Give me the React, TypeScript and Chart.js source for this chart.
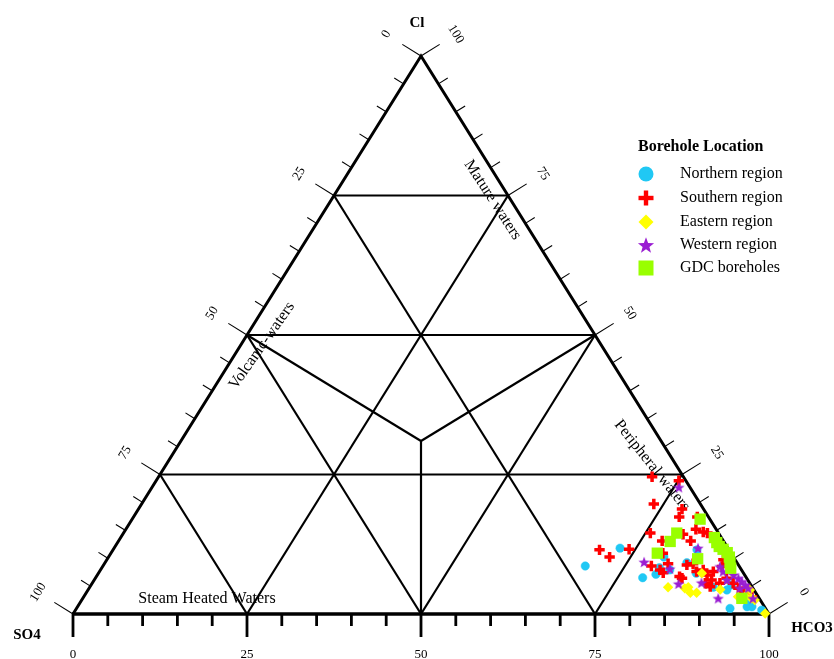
import React, { useEffect, useRef } from "react";
import { Chart, registerables } from "chart.js";

Chart.register(...registerables);

// Each point: [Cl %, HCO3 %]; SO4 % = 100 - Cl - HCO3
const northern: [number, number][] = [
  [8.6, 69.3], [11.8, 72.7], [6.5, 78.6], [7.1, 80.2], [8.3, 80.1], [7.9, 81.8],
  [9.2, 83.6], [11.5, 83.9], [7.3, 85.9], [4.3, 91.8], [1.0, 93.9], [1.3, 96.2],
  [1.3, 96.9], [0.7, 98.6], [5.2, 92.0], [2.5, 96.0], [10.2, 79.8], [4.8, 89.6],
];
const southern: [number, number][] = [
  [24.6, 70.9], [23.9, 75.1], [19.7, 73.6], [18.8, 78.1], [17.4, 78.4], [14.5, 75.7],
  [13.1, 78.1], [14.3, 80.5], [13.1, 82.2], [15.2, 81.9], [11.5, 69.9], [10.2, 72.0],
  [11.6, 74.1], [10.9, 79.3], [9.0, 81.0], [8.6, 78.8], [7.9, 80.4], [7.4, 81.1],
  [6.7, 83.8], [6.4, 84.3], [8.8, 83.8], [9.0, 84.6], [7.6, 85.8], [17.4, 81.0],
  [14.7, 83.2], [14.5, 83.9], [7.9, 86.6], [7.0, 87.6], [6.1, 88.7], [5.5, 88.1],
  [4.9, 89.1], [5.5, 90.2], [9.7, 88.6], [8.5, 89.0], [6.4, 90.7], [5.5, 92.1],
  [4.6, 93.3], [4.0, 94.3], [4.3, 94.9], [7.6, 88.2], [3.1, 96.0],
];
const eastern: [number, number][] = [
  [4.8, 83.1], [4.6, 85.6], [4.8, 86.0], [3.8, 86.8], [3.8, 87.7], [7.3, 86.7],
  [4.4, 90.8], [2.8, 96.1], [2.5, 96.7], [0.1, 99.4], [3.2, 95.0], [3.1, 94.0],
  [4.3, 95.1],
];
const western: [number, number][] = [
  [22.7, 75.7], [9.3, 77.4], [8.1, 81.7], [5.4, 84.3], [11.8, 83.9], [8.5, 88.7],
  [7.6, 89.6], [6.1, 90.9], [7.0, 91.4], [6.4, 92.4], [5.8, 93.2], [5.2, 94.0],
  [4.6, 94.7], [2.8, 96.3], [2.8, 91.3], [5.6, 87.5], [4.6, 93.5],
];
const gdc: [number, number][] = [
  [14.5, 79.5], [13.0, 79.3], [10.9, 78.5], [9.9, 84.8], [17.0, 81.6], [13.7, 85.3],
  [12.8, 86.1], [12.1, 86.8], [11.6, 87.6], [11.0, 88.5], [10.2, 89.2], [9.2, 89.8],
  [8.2, 90.4], [2.8, 94.7],
];

const seriesNames = ["Northern region", "Southern region", "Eastern region", "Western region", "GDC boreholes"];
const axisTicks = [0, 25, 50, 75, 100];
const vertexLabels = ["Cl", "SO4", "HCO3"];
const regionLabels = ["Mature waters", "Volcanic-waters", "Peripheral waters", "Steam Heated Waters"];
const legendTitle = "Borehole Location";

const COLORS = ["#20C8F4", "#FF0000", "#FFFF00", "#9A1ED2", "#99FF00"];
const FONT = "'Liberation Serif', 'Times New Roman', serif";

function makeStar(outer: number, color: string): HTMLCanvasElement {
  const s = Math.ceil(outer * 2 + 2);
  const c = document.createElement("canvas");
  c.width = s;
  c.height = s;
  const g = c.getContext("2d")!;
  drawStar(g, s / 2, s / 2 + outer * 0.08, outer, color);
  return c;
}

function drawStar(g: CanvasRenderingContext2D, cx: number, cy: number, outer: number, color: string) {
  const inner = outer * 0.42;
  g.beginPath();
  for (let i = 0; i < 10; i++) {
    const r = i % 2 === 0 ? outer : inner;
    const a = -Math.PI / 2 + (i * Math.PI) / 5;
    const px = cx + r * Math.cos(a);
    const py = cy + r * Math.sin(a);
    if (i === 0) g.moveTo(px, py);
    else g.lineTo(px, py);
  }
  g.closePath();
  g.fillStyle = color;
  g.fill();
}

const toXY = (pts: [number, number][]) => pts.map(([cl, h]) => ({ x: h + cl / 2, y: cl }));

const ternaryPlugin = {
  id: "ternary",
  beforeDatasetsDraw(chart: any) {
    const { ctx } = chart;
    const xs = chart.scales.x;
    const ys = chart.scales.y;
    const P = (cl: number, h: number) => ({ x: xs.getPixelForValue(h + cl / 2), y: ys.getPixelForValue(cl) });
    const A = P(0, 0); // SO4
    const B = P(0, 100); // HCO3
    const C = P(100, 0); // Cl
    ctx.save();
    ctx.strokeStyle = "#000";
    ctx.lineJoin = "miter";

    const seg = (p: { x: number; y: number }, q: { x: number; y: number }) => {
      ctx.beginPath();
      ctx.moveTo(p.x, p.y);
      ctx.lineTo(q.x, q.y);
      ctx.stroke();
    };

    // inner grid
    ctx.lineWidth = 2.2;
    const inner: [number, number, number, number][] = [
      [75, 0, 75, 25], [50, 0, 50, 50], [25, 0, 25, 75],
      [0, 25, 75, 25], [0, 50, 50, 50], [0, 75, 25, 75],
      [0, 75, 75, 0], [0, 50, 50, 0], [0, 25, 25, 0],
      [50, 0, 31, 34.5], [50, 50, 31, 34.5], [31, 34.5, 0, 50],
    ];
    inner.forEach(([a, b, c, d]) => seg(P(a, b), P(c, d)));

    // outer triangle
    ctx.lineWidth = 3;
    ctx.beginPath();
    ctx.moveTo(A.x, A.y);
    ctx.lineTo(C.x, C.y);
    ctx.lineTo(B.x, B.y);
    ctx.stroke();
    ctx.lineWidth = 3.5;
    seg({ x: A.x - 1, y: A.y }, { x: B.x + 1, y: B.y });

    // bottom ticks
    ctx.lineWidth = 2.8;
    for (let v = 0; v <= 100; v += 5) {
      const p = P(0, v);
      const len = v % 25 === 0 ? 23 : 12;
      seg(p, { x: p.x, y: p.y + len });
    }

    // side ticks
    const dL = { x: C.x - A.x, y: C.y - A.y };
    const nLen = Math.hypot(dL.x, dL.y);
    const nL = { x: dL.y / nLen, y: -dL.x / nLen };
    const dR = { x: C.x - B.x, y: C.y - B.y };
    const rLen = Math.hypot(dR.x, dR.y);
    const nR = { x: -dR.y / rLen, y: dR.x / rLen };
    ctx.lineWidth = 1.1;
    for (let v = 0; v <= 100; v += 5) {
      const len = v % 25 === 0 ? 22 : 11;
      const pl = P(100 - v, 0);
      seg(pl, { x: pl.x + nL.x * len, y: pl.y + nL.y * len });
      const pr = P(v, 100 - v);
      seg(pr, { x: pr.x + nR.x * len, y: pr.y + nR.y * len });
    }

    // tick labels
    ctx.fillStyle = "#000";
    ctx.font = `13px ${FONT}`;
    ctx.textAlign = "center";
    ctx.textBaseline = "middle";
    const angL = Math.atan2(dL.y, dL.x);
    const angR = Math.atan2(-dR.y, -dR.x);
    axisTicks.forEach((v) => {
      const pb = P(0, v);
      ctx.fillText(String(v), pb.x, pb.y + 41);
      const pl = P(100 - v, 0);
      ctx.save();
      ctx.translate(pl.x + nL.x * 41, pl.y + nL.y * 41);
      ctx.rotate(angL);
      ctx.fillText(String(v), 0, 0);
      ctx.restore();
      const pr = P(v, 100 - v);
      ctx.save();
      ctx.translate(pr.x + nR.x * 41, pr.y + nR.y * 41);
      ctx.rotate(angR);
      ctx.fillText(String(v), 0, 0);
      ctx.restore();
    });

    // vertex labels
    ctx.font = `bold 15px ${FONT}`;
    ctx.fillText(vertexLabels[0], C.x - 4, C.y - 33);
    ctx.fillText(vertexLabels[1], A.x - 46, A.y + 21);
    ctx.fillText(vertexLabels[2], B.x + 43, B.y + 14);

    // region labels
    ctx.font = `16px ${FONT}`;
    const regions: [string, number, number, number][] = [
      [regionLabels[0], 74.2, 23.2, 57],
      [regionLabels[1], 48.1, 3.1, -55],
      [regionLabels[2], 26.6, 69.9, 51.4],
      [regionLabels[3], 2.7, 17.9, 0],
    ];
    regions.forEach(([t, cl, h, deg]) => {
      const p = P(cl, h);
      ctx.save();
      ctx.translate(p.x, p.y);
      ctx.rotate((deg * Math.PI) / 180);
      ctx.fillText(t, 0, 0);
      ctx.restore();
    });
    ctx.restore();
  },
  afterDraw(chart: any) {
    const { ctx } = chart;
    ctx.save();
    ctx.fillStyle = "#000";
    ctx.textAlign = "left";
    ctx.textBaseline = "middle";
    ctx.font = `bold 16px ${FONT}`;
    ctx.fillText(legendTitle, 638, 147);
    const ys = [174, 198, 222, 245, 268];
    const mx = 646;
    seriesNames.forEach((name, i) => {
      const y = ys[i];
      ctx.fillStyle = COLORS[i];
      if (i === 0) {
        ctx.beginPath();
        ctx.arc(mx, y, 7.5, 0, Math.PI * 2);
        ctx.fill();
      } else if (i === 1) {
        ctx.fillRect(mx - 7.5, y - 2.2, 15, 4.4);
        ctx.fillRect(mx - 2.2, y - 7.5, 4.4, 15);
      } else if (i === 2) {
        ctx.beginPath();
        ctx.moveTo(mx, y - 7.5);
        ctx.lineTo(mx + 7.5, y);
        ctx.lineTo(mx, y + 7.5);
        ctx.lineTo(mx - 7.5, y);
        ctx.closePath();
        ctx.fill();
      } else if (i === 3) {
        drawStar(ctx, mx, y + 0.8, 8.5, COLORS[i]);
      } else {
        ctx.fillRect(mx - 7.5, y - 7.5, 15, 15);
      }
      ctx.fillStyle = "#000";
      ctx.font = `16px ${FONT}`;
      ctx.fillText(name, 680, y);
    });
    ctx.restore();
  },
};

export default function App() {
  const ref = useRef<HTMLCanvasElement | null>(null);
  useEffect(() => {
    if (!ref.current) return;
    const star = makeStar(6, COLORS[3]);
    const chart = new Chart(ref.current, {
      type: "scatter",
      data: {
        datasets: [
          {
            label: seriesNames[0], data: toXY(northern), order: 5, clip: false as any,
            pointStyle: "circle", pointRadius: 4.2, backgroundColor: COLORS[0], borderColor: COLORS[0], borderWidth: 0.5,
          },
          {
            label: seriesNames[1], data: toXY(southern), order: 4, clip: false as any,
            pointStyle: "cross", pointRadius: 5.2, backgroundColor: COLORS[1], borderColor: COLORS[1], borderWidth: 3.5,
          },
          {
            label: seriesNames[2], data: toXY(eastern), order: 3, clip: false as any,
            pointStyle: "rectRot", pointRadius: 5.2, backgroundColor: COLORS[2], borderColor: COLORS[2], borderWidth: 0,
          },
          {
            label: seriesNames[3], data: toXY(western), order: 2, clip: false as any,
            pointStyle: star as any, pointRadius: 6, backgroundColor: COLORS[3], borderColor: COLORS[3], borderWidth: 0,
          },
          {
            label: seriesNames[4], data: toXY(gdc), order: 1, clip: false as any,
            pointStyle: "rect", pointRadius: 8, backgroundColor: COLORS[4], borderColor: COLORS[4], borderWidth: 0,
          },
        ],
      },
      options: {
        responsive: false,
        devicePixelRatio: 1,
        animation: false,
        events: [],
        layout: { padding: { left: 73, right: 65, top: 56, bottom: 45 } },
        scales: {
          x: { type: "linear", min: 0, max: 100, display: false },
          y: { type: "linear", min: 0, max: 100, display: false },
        },
        plugins: { legend: { display: false }, tooltip: { enabled: false } },
      },
      plugins: [ternaryPlugin],
    });
    return () => chart.destroy();
  }, []);
  return (
    <div style={{ position: "absolute", left: 0, top: 0, width: 834, height: 659, background: "#fff" }}>
      <canvas ref={ref} width={834} height={659} style={{ display: "block" }} />
    </div>
  );
}
